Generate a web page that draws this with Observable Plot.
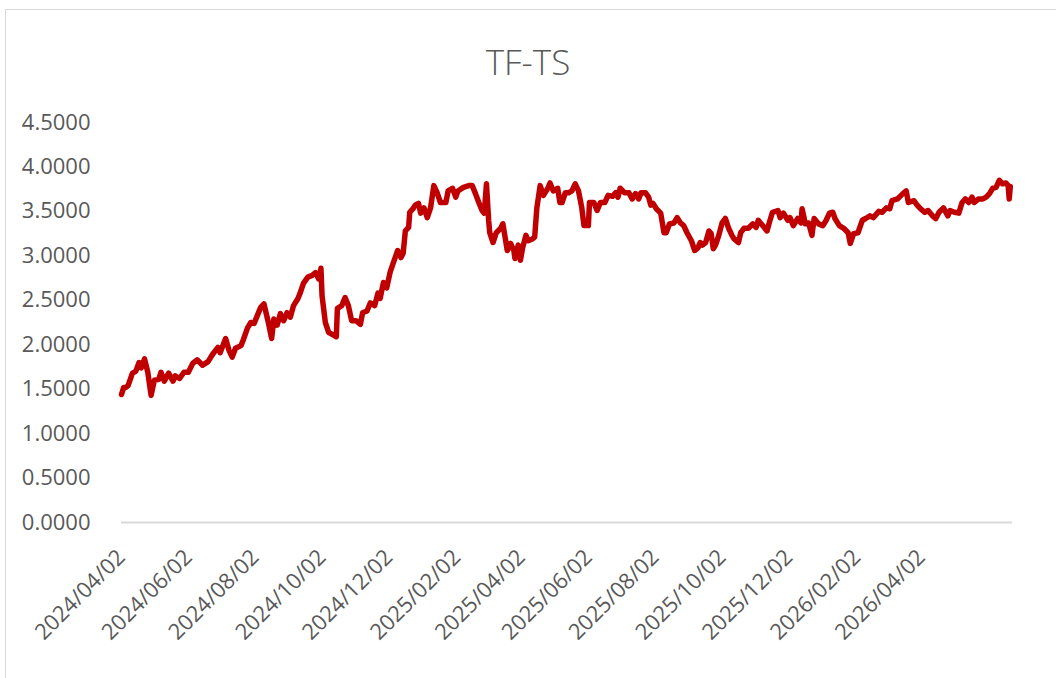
<!DOCTYPE html>
<html>
<head>
<meta charset="utf-8">
<script src="https://cdn.jsdelivr.net/npm/d3@7"></script>
<script src="https://cdn.jsdelivr.net/npm/@observablehq/plot@0.6"></script>
<style>
  html, body { margin: 0; padding: 0; background: #fff; width: 1056px; height: 678px; overflow: hidden; }
  #frame { position: absolute; left: 5px; top: 9px; width: 1200px; height: 800px; border: 1.5px solid #d9d9d9; box-sizing: border-box; }
  #title { position: absolute; left: 0; top: 0; width: 1056px; height: 100px; text-align: center;
           font-family: "Open Sans", sans-serif; font-weight: 300;
           font-size: 35px; color: #595959; line-height: 124px; }
  #chart { position: absolute; left: 0; top: 100px; }
</style>
</head>
<body>
<div id="frame"></div>
<div id="title">TF-TS</div>
<div id="chart"></div>
<script>
// Series: day offsets from 2024/04/02 and TF-TS values
const startDate = "2024/04/02";
const dayOffsets = [
  0,2,4,6,10,13,16,18,21,24,27,30,34,36,39,43,47,49,53,57,61,65,69,74,79,83,88,90,95,98,101,104,109,111,115,118,121,124,127,130,
  134,137,139,142,145,148,151,154,157,161,163,166,170,174,177,180,182,183,186,189,193,196,197,201,204,207,210,214,218,220,224,227,231,234,236,239,242,245,248,252,255,257,259,262,263,266,268,
  271,273,276,279,282,285,288,291,296,298,302,305,307,312,317,320,323,326,329,331,333,335,336,339,342,346,348,350,352,355,358,359,362,364,366,369,371,375,377,379,382,385,389,391,394,398,400,402,405,
  408,411,414,417,420,422,426,427,431,434,437,441,444,448,451,453,455,459,463,466,469,472,474,478,481,483,485,488,492,495,497,500,504,507,510,513,516,520,523,526,528,530,533,536,538,540,
  542,545,548,551,554,557,559,563,565,568,572,576,579,581,585,589,591,594,599,601,604,608,610,613,617,620,621,624,627,630,632,636,640,643,646,649,651,655,659,663,665,668,672,676,679,
  683,686,691,694,698,701,703,708,713,716,718,723,726,729,733,736,740,743,746,750,754,756,760,764,767,770,773,776,778,782,786,789,792,795,798,801,804,807,809,810,811
];
const tfts = [
  1.44,1.52,1.52,1.54,1.68,1.70,1.80,1.74,1.84,1.69,1.43,1.60,1.61,1.69,1.59,1.68,1.59,1.65,1.62,1.69,1.69,1.79,1.83,1.77,1.81,1.89,1.97,1.91,2.07,1.94,1.86,1.96,1.99,2.05,2.19,2.25,2.24,2.33,2.42,2.46,
  2.25,2.07,2.29,2.22,2.35,2.27,2.36,2.31,2.44,2.52,2.58,2.69,2.76,2.78,2.81,2.74,2.86,2.55,2.25,2.14,2.11,2.09,2.41,2.44,2.53,2.44,2.27,2.27,2.23,2.36,2.38,2.47,2.44,2.58,2.52,2.70,2.64,2.81,2.92,3.06,2.98,3.03,3.28,3.32,3.49,3.53,3.57,
  3.59,3.48,3.54,3.43,3.54,3.79,3.71,3.60,3.60,3.73,3.76,3.66,3.73,3.77,3.79,3.79,3.70,3.60,3.51,3.48,3.81,3.40,3.26,3.15,3.26,3.31,3.36,3.21,3.06,3.14,3.06,2.97,3.12,2.95,3.09,3.23,3.17,3.19,3.21,3.54,3.79,3.68,3.76,3.82,3.73,3.76,3.60,3.60,3.71,
  3.71,3.73,3.81,3.73,3.54,3.34,3.34,3.60,3.60,3.51,3.60,3.60,3.68,3.67,3.71,3.66,3.76,3.71,3.71,3.64,3.70,3.64,3.71,3.71,3.66,3.57,3.59,3.53,3.48,3.26,3.26,3.36,3.37,3.43,3.37,3.34,3.26,3.17,3.06,3.09,3.15,3.12,3.15,3.28,3.25,3.08,
  3.12,3.23,3.37,3.42,3.31,3.23,3.19,3.15,3.26,3.31,3.31,3.36,3.32,3.40,3.34,3.28,3.37,3.49,3.51,3.43,3.48,3.40,3.43,3.34,3.42,3.37,3.53,3.36,3.37,3.23,3.42,3.36,3.34,3.40,3.48,3.49,3.42,3.34,3.31,3.26,3.14,3.25,3.26,3.40,3.42,
  3.45,3.43,3.50,3.49,3.54,3.53,3.62,3.64,3.70,3.73,3.60,3.62,3.57,3.53,3.49,3.51,3.45,3.42,3.49,3.54,3.45,3.51,3.49,3.48,3.60,3.64,3.60,3.66,3.60,3.64,3.64,3.66,3.70,3.76,3.77,3.85,3.81,3.82,3.79,3.64,3.78
];
const xTickLabels = ["2024/04/02","2024/06/02","2024/08/02","2024/10/02","2024/12/02","2025/02/02","2025/04/02","2025/06/02","2025/08/02","2025/10/02","2025/12/02","2026/02/02","2026/04/02"];
const yTicks = [0,0.5,1,1.5,2,2.5,3,3.5,4,4.5];
const xEndDays = 813;

const parse = d3.utcParse("%Y/%m/%d");
const t0 = parse(startDate);
const day = 864e5;
const data = dayOffsets.map((d, i) => ({date: new Date(+t0 + d * day), value: tfts[i]}));
const xTicks = xTickLabels.map(parse);

const font = "'Open Sans', Lato, sans-serif";
const chart = Plot.plot({
  width: 1056,
  height: 578,
  marginLeft: 121,
  marginRight: 44,
  marginTop: 22,
  marginBottom: 156,
  style: {fontFamily: font, fontSize: "22px", color: "#595959", background: "transparent"},
  x: {type: "utc", domain: [t0, new Date(+t0 + xEndDays * day)]},
  y: {domain: [0, 4.5]},
  marks: [
    Plot.ruleY([0], {stroke: "#d9d9d9", strokeWidth: 2}),
    Plot.axisY(yTicks, {tickSize: 0, tickPadding: 31, tickFormat: d3.format(".4f"), fontSize: 22, fill: "#595959", label: null}),
    Plot.axisX(xTicks, {tickSize: 0, tickPadding: 31, tickRotate: -45, tickFormat: d3.utcFormat("%Y/%m/%d"), fontSize: 22, fill: "#595959", label: null}),
    Plot.line(data, {x: "date", y: "value", stroke: "#c00000", strokeWidth: 5.5, strokeLinejoin: "round", strokeLinecap: "round"})
  ]
});
document.getElementById("chart").appendChild(chart);
</script>
</body>
</html>
